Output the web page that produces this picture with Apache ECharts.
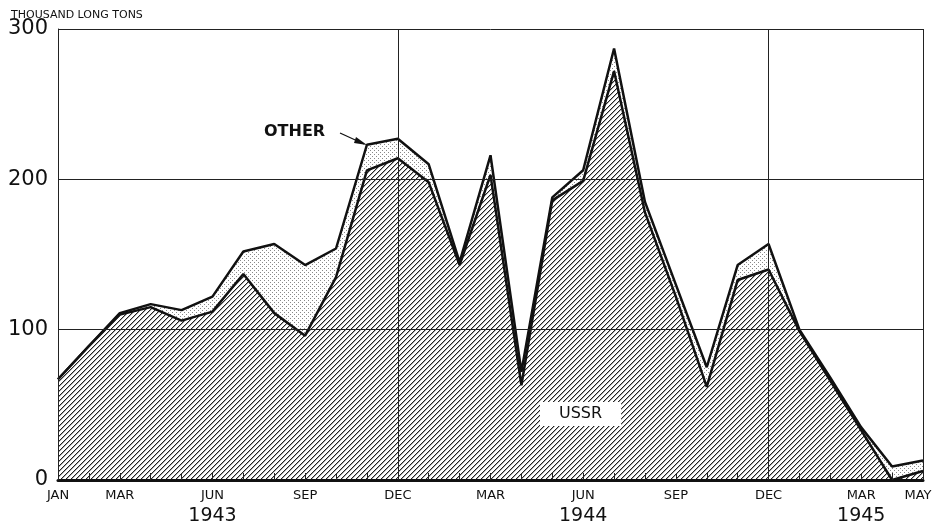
<!DOCTYPE html>
<html>
<head>
<meta charset="utf-8">
<script src="https://cdn.jsdelivr.net/npm/echarts@6/dist/echarts.min.js"></script>
<style>html,body{margin:0;padding:0;background:#fff}#c{width:934px;height:525px}</style>
</head>
<body>
<div id="c"></div>
<script>
// ---- data ----
const categories = ['JAN','FEB','MAR','APR','MAY','JUN','JUL','AUG','SEP','OCT','NOV','DEC',
                    'JAN','FEB','MAR','APR','MAY','JUN','JUL','AUG','SEP','OCT','NOV','DEC',
                    'JAN','FEB','MAR','APR','MAY'];
const labeledIdx = [0,2,5,8,11,14,17,20,23,26,28];
const yearLabels = {5:'1943', 17:'1944', 26:'1945'};
const ussr  = [67, 89,110,115,106,112,137,111, 96,135,206,214, 198,143,203, 63,186,199,272,178,122, 62,133,140,  99, 66, 33,  0,  6];
const total = [67, 89,111,117,113,122,152,157,143,154,223,227, 210,145,216, 72,188,206,287,185,130, 75,143,157, 100, 68, 35,  9, 13];
const other = total.map((t,i)=>t-ussr[i]);
const yTicks = [0,100,200,300];

// ---- patterns ----
function hatch(){
  const s=5, c=document.createElement('canvas'); c.width=c.height=s;
  const g=c.getContext('2d'); g.fillStyle='#fff'; g.fillRect(0,0,s,s);
  for(let i=0;i<s;i++){
    g.fillStyle='#222'; g.fillRect(i,s-1-i,1,1);
    g.fillStyle='#aaa'; g.fillRect((i+1)%s,s-1-i,1,1);
  }
  return c;
}
function dots(){
  const s=4, c=document.createElement('canvas'); c.width=c.height=s;
  const g=c.getContext('2d'); g.fillStyle='#fff'; g.fillRect(0,0,s,s);
  g.fillStyle='#888'; g.fillRect(0,0,1,1); g.fillRect(2,2,1,1);
  return c;
}

const chart = echarts.init(document.getElementById('c'), null, {renderer:'canvas'});
const font = 'DejaVu Sans';
const lastIdx = categories.length-1;
chart.setOption({
  animation:false,
  backgroundColor:'#fff',
  title:{text:'THOUSAND LONG TONS', left:6, top:5,
    textStyle:{fontFamily:font, fontSize:11, fontWeight:'normal', color:'#111'}},
  grid:{left:58, right:11, top:29, bottom:45, outerBoundsMode:'none', containLabel:false},
  xAxis:{
    type:'category', data:categories, boundaryGap:false, z:10,
    axisLine:{lineStyle:{color:'#111', width:3}},
    axisTick:{inside:true, length:7, interval:0, lineStyle:{color:'#222', width:1}},
    axisLabel:{interval:0, margin:6, fontFamily:font, fontSize:13, color:'#111', lineHeight:19, hideOverlap:false,
      formatter:(v,i)=>{
        if(labeledIdx.indexOf(i)<0) return '';
        if(i===lastIdx) return '{e|'+v+'}';
        return yearLabels[i] ? v+'\n{y|'+yearLabels[i]+'}' : v;
      },
      rich:{y:{fontFamily:font, fontSize:19, color:'#111', lineHeight:22},
            e:{fontFamily:font, fontSize:13, color:'#111', padding:[0,10,0,0]}}},
    splitLine:{show:true, interval:(i)=>i===11||i===23||i===28, lineStyle:{color:'#222', width:1}}
  },
  yAxis:{
    type:'value', min:0, max:300, interval:100, z:10,
    axisLine:{show:true, lineStyle:{color:'#222', width:1}},
    axisTick:{show:false},
    axisLabel:{fontFamily:font, fontSize:21, color:'#111', margin:10,
      formatter:(v)=>yTicks.indexOf(v)>=0?String(v):''},
    splitLine:{show:true, lineStyle:{color:'#222', width:1}}
  },
  series:[
    {name:'USSR', type:'line', stack:'t', data:ussr, showSymbol:false, z:3,
      lineStyle:{color:'#111', width:2.5}, areaStyle:{color:{image:hatch(), repeat:'repeat'}, opacity:1}},
    {name:'OTHER', type:'line', stack:'t', data:other, showSymbol:false, z:2,
      lineStyle:{color:'#111', width:2.5}, areaStyle:{color:{image:dots(), repeat:'repeat'}, opacity:1}}
  ],
  graphic:[
    {type:'text', left:264, top:124, z:20, style:{text:'OTHER', fontFamily:font, fontSize:16, fontWeight:'bold', fill:'#111'}},
    {type:'polyline', z:20, shape:{points:[[340,133],[364,144]]}, style:{stroke:'#111', lineWidth:1.3}},
    {type:'polygon', z:20, shape:{points:[[367,145],[356,137],[354,143]]}, style:{fill:'#111'}},
    {type:'text', left:540, top:402, z:20, style:{text:'USSR', fontFamily:font, fontSize:16, fontWeight:'normal', fill:'#111',
      backgroundColor:'#fff', padding:[4,19,4,19]}}
  ]
});
</script>
</body>
</html>
